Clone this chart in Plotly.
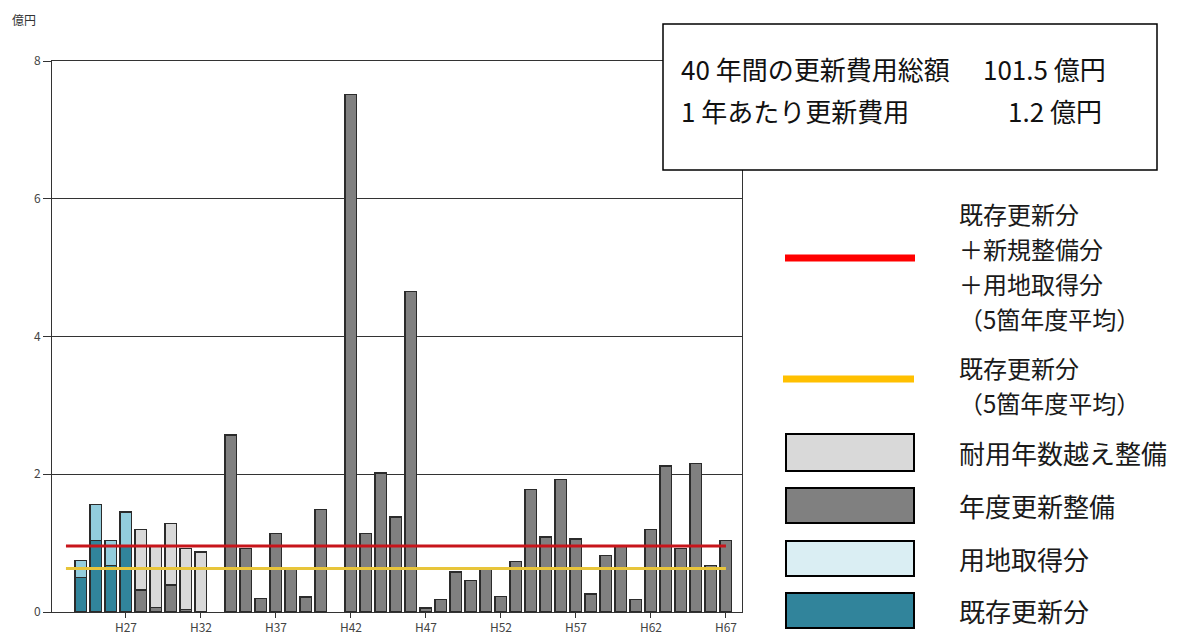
import plotly.graph_objects as go

# ---- data (億円) ----
years = list(range(23, 68))  # H23..H67
tick_years = [27, 32, 37, 42, 47, 52, 57, 62, 67]
tick_labels = ["H27", "H32", "H37", "H42", "H47", "H52", "H57", "H62", "H67"]

existing = {24: 0.50, 25: 1.04, 26: 0.68, 27: 0.96}          # 既存更新分
land = {24: 0.25, 25: 0.52, 26: 0.36, 27: 0.49}              # 用地取得分
over_life = {28: 0.88, 29: 0.88, 30: 0.90, 31: 0.88, 32: 0.87}  # 耐用年数越え整備
annual = {28: 0.32, 29: 0.07, 30: 0.39, 31: 0.04,
          34: 2.57, 35: 0.92, 36: 0.20, 37: 1.14, 38: 0.64, 39: 0.22, 40: 1.49,
          42: 7.51, 43: 1.14, 44: 2.02, 45: 1.38, 46: 4.65, 47: 0.06, 48: 0.18,
          49: 0.58, 50: 0.46, 51: 0.62, 52: 0.23, 53: 0.73, 54: 1.78, 55: 1.09,
          56: 1.92, 57: 1.06, 58: 0.26, 59: 0.82, 60: 0.95, 61: 0.18, 62: 1.20,
          63: 2.12, 64: 0.92, 65: 2.16, 66: 0.68, 67: 1.04}          # 年度更新整備
avg_all = 0.96       # 既存更新分＋新規整備分＋用地取得分（5箇年度平均）
avg_existing = 0.63  # 既存更新分（5箇年度平均）

FONT = "Noto Sans CJK JP"
C_EXIST = "#31849b"
C_LAND_BAR = "#93cddd"
C_LAND_LEG = "#daeef3"
C_OVER = "#d9d9d9"
C_ANNUAL = "#808080"
OUT = "#2b2b2b"

fig = go.Figure()

def add_bar(d, color, name):
    xs = [y for y in years if y in d]
    fig.add_trace(go.Bar(x=xs, y=[d[y] for y in xs], name=name, marker_color=color,
                         marker_line_color=OUT, marker_line_width=1.3, width=0.78,
                         showlegend=False))

add_bar(existing, C_EXIST, "既存更新分")
add_bar(annual, C_ANNUAL, "年度更新整備")
add_bar(over_life, C_OVER, "耐用年数越え整備")
add_bar(land, C_LAND_BAR, "用地取得分")

fig.add_trace(go.Scatter(x=years, y=[avg_existing] * len(years), mode="lines",
                         line=dict(color="#e8c53a", width=3), showlegend=False))
fig.add_trace(go.Scatter(x=years, y=[avg_all] * len(years), mode="lines",
                         line=dict(color="#c8151b", width=3), showlegend=False))

W, H = 1191, 635
L, R, T, B = 52, 742, 61, 612

def px(x):
    return (x - L) / (R - L)

def py(y):
    return (B - y) / (B - T)

shapes = []
annotations = []

# info box
shapes.append(dict(type="rect", xref="paper", yref="paper",
                   x0=px(663), x1=px(1157), y0=py(170), y1=py(24),
                   line=dict(color="#000000", width=1.5), fillcolor="white", layer="above"))
box_font = dict(family=FONT, size=26, color="#111111")
annotations += [
    dict(text="40 年間の更新費用総額", x=px(679), y=py(69), xanchor="left"),
    dict(text="101.5 億円", x=px(1108), y=py(69), xanchor="right"),
    dict(text="1 年あたり更新費用", x=px(679), y=py(110), xanchor="left"),
    dict(text="1.2 億円", x=px(1104), y=py(110), xanchor="right"),
]
for a in annotations:
    a.update(xref="paper", yref="paper", yanchor="middle", showarrow=False, font=box_font)

def leg_text(t, y, size):
    annotations.append(dict(text=t, x=px(957), y=py(y), xref="paper", yref="paper",
                            xanchor="left", yanchor="middle", align="left",
                            showarrow=False,
                            font=dict(family=FONT, size=size, color="#1a1a1a")))

# line legend
shapes.append(dict(type="line", xref="paper", yref="paper", x0=px(785), x1=px(915),
                   y0=py(258), y1=py(258), line=dict(color="#ff0000", width=7)))
shapes.append(dict(type="line", xref="paper", yref="paper", x0=px(783), x1=px(914),
                   y0=py(379), y1=py(379), line=dict(color="#ffc000", width=7)))
for t, y in [("既存更新分", 213), ("＋新規整備分", 248), ("＋用地取得分", 283),
             ("（5箇年度平均）", 318), ("既存更新分", 367), ("（5箇年度平均）", 402)]:
    leg_text(t, y, 24)

# box legend
for (y0, y1, col, t) in [(434, 471, C_OVER, "耐用年数越え整備"),
                         (488, 523, C_ANNUAL, "年度更新整備"),
                         (541, 576, C_LAND_LEG, "用地取得分"),
                         (593, 628, C_EXIST, "既存更新分")]:
    shapes.append(dict(type="rect", xref="paper", yref="paper", x0=px(786), x1=px(914),
                       y0=py(y1), y1=py(y0), fillcolor=col,
                       line=dict(color="#000000", width=2)))
    leg_text(t, (y0 + y1) / 2, 26)

annotations.append(dict(text="億円", x=px(10), y=py(20), xref="paper", yref="paper",
                        xanchor="left", yanchor="middle", showarrow=False,
                        font=dict(family=FONT, size=12, color="#333333")))

fig.update_layout(
    width=W, height=H, barmode="stack",
    margin=dict(l=L, r=W - R, t=T, b=H - B, pad=0),
    paper_bgcolor="white", plot_bgcolor="white",
    font=dict(family=FONT, size=12, color="#444444"),
    shapes=shapes, annotations=annotations,
    xaxis=dict(range=[22.07, 68.07], tickvals=tick_years, ticktext=tick_labels,
               showgrid=False, showline=True, linecolor="#333333", linewidth=1,
               mirror=True, ticks="outside", ticklen=5, tickcolor="#333333",
               tickfont=dict(size=12, color="#444444"), zeroline=False,
               automargin=False),
    yaxis=dict(range=[0, 8], tickvals=[0, 2, 4, 6, 8], showgrid=True,
               gridcolor="#333333", gridwidth=1, showline=True, linecolor="#333333",
               linewidth=1, mirror=True, ticks="outside", ticklen=8,
               tickcolor="#333333", tickfont=dict(size=12, color="#444444"),
               zeroline=False, automargin=False),
)

fig.write_html("out.html", config={"displayModeBar": False},
               post_script="document.body.style.margin='0';document.body.style.overflow='hidden';")
